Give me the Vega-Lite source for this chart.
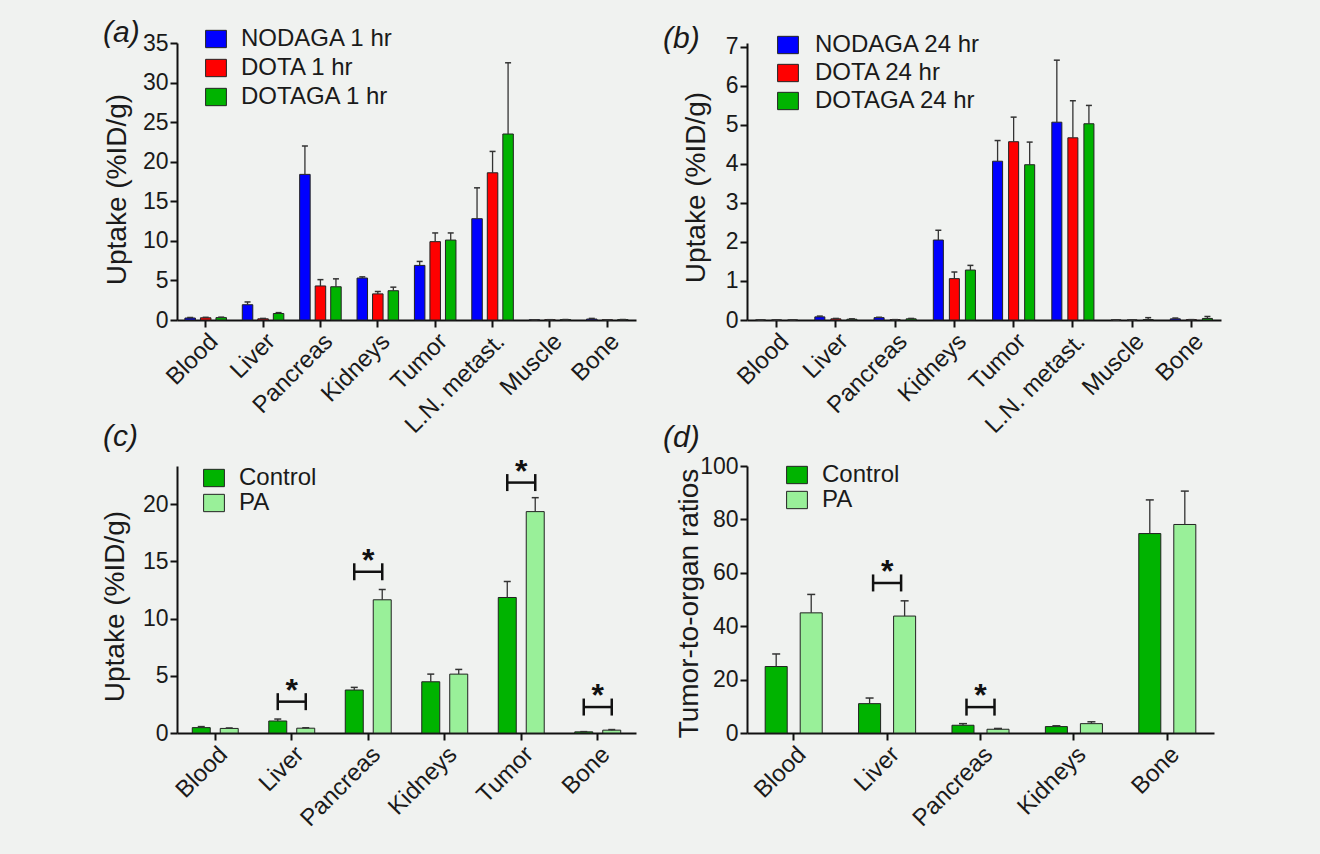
{
  "$schema": "https://vega.github.io/schema/vega-lite/v6.json",
  "background": "#f0f2f0",
  "padding": {"left": 100, "top": 18, "right": 100, "bottom": 31},
  "config": {
    "font": "Liberation Sans",
    "view": {"stroke": null},
    "tick": {"opacity": 1},
    "axis": {"grid": false, "domainColor": "#111111", "domainWidth": 2, "tickColor": "#111111", "tickWidth": 2, "tickSize": 7, "labelFontSize": 23, "labelColor": "#1a1a1a", "titleFontSize": 28, "titleFontWeight": "normal", "titleColor": "#1a1a1a", "labelPadding": 2},
    "axisX": {"labelFontSize": 24},
    "legend": {"orient": "none", "title": null, "symbolType": "M-1.2,-1H1.2V1H-1.2Z", "symbolSize": 300, "symbolStrokeColor": "#222222", "symbolStrokeWidth": 1, "symbolOpacity": 1, "labelFontSize": 24, "labelLimit": 400, "labelColor": "#1a1a1a", "labelOffset": 13, "padding": 0},
    "title": {"fontSize": 30, "fontStyle": "italic", "fontWeight": "normal", "color": "#1a1a1a", "anchor": "start", "frame": "group", "offset": 0, "baseline": "alphabetic"}
  },
  "datasets": {
    "a": [
      {"organ": "Blood", "series": "NODAGA 1 hr", "value": 0.25, "hi": 0.32},
      {"organ": "Blood", "series": "DOTA 1 hr", "value": 0.28, "hi": 0.34},
      {"organ": "Blood", "series": "DOTAGA 1 hr", "value": 0.3, "hi": 0.36},
      {"organ": "Liver", "series": "NODAGA 1 hr", "value": 1.93, "hi": 2.28},
      {"organ": "Liver", "series": "DOTA 1 hr", "value": 0.15, "hi": 0.2},
      {"organ": "Liver", "series": "DOTAGA 1 hr", "value": 0.82, "hi": 0.93},
      {"organ": "Pancreas", "series": "NODAGA 1 hr", "value": 18.4, "hi": 22.0},
      {"organ": "Pancreas", "series": "DOTA 1 hr", "value": 4.3, "hi": 5.1},
      {"organ": "Pancreas", "series": "DOTAGA 1 hr", "value": 4.2, "hi": 5.2},
      {"organ": "Kidneys", "series": "NODAGA 1 hr", "value": 5.3, "hi": 5.45},
      {"organ": "Kidneys", "series": "DOTA 1 hr", "value": 3.3, "hi": 3.6},
      {"organ": "Kidneys", "series": "DOTAGA 1 hr", "value": 3.7, "hi": 4.15},
      {"organ": "Tumor", "series": "NODAGA 1 hr", "value": 6.9, "hi": 7.4},
      {"organ": "Tumor", "series": "DOTA 1 hr", "value": 9.9, "hi": 11.0},
      {"organ": "Tumor", "series": "DOTAGA 1 hr", "value": 10.1, "hi": 11.0},
      {"organ": "L.N. metast.", "series": "NODAGA 1 hr", "value": 12.8, "hi": 16.7},
      {"organ": "L.N. metast.", "series": "DOTA 1 hr", "value": 18.6, "hi": 21.3},
      {"organ": "L.N. metast.", "series": "DOTAGA 1 hr", "value": 23.5, "hi": 32.5},
      {"organ": "Muscle", "series": "NODAGA 1 hr", "value": 0.02, "hi": 0.03},
      {"organ": "Muscle", "series": "DOTA 1 hr", "value": 0.03, "hi": 0.04},
      {"organ": "Muscle", "series": "DOTAGA 1 hr", "value": 0.04, "hi": 0.06},
      {"organ": "Bone", "series": "NODAGA 1 hr", "value": 0.12, "hi": 0.2},
      {"organ": "Bone", "series": "DOTA 1 hr", "value": 0.02, "hi": 0.03},
      {"organ": "Bone", "series": "DOTAGA 1 hr", "value": 0.04, "hi": 0.06}
    ],
    "b": [
      {"organ": "Blood", "series": "NODAGA 24 hr", "value": 0, "hi": 0},
      {"organ": "Blood", "series": "DOTA 24 hr", "value": 0, "hi": 0},
      {"organ": "Blood", "series": "DOTAGA 24 hr", "value": 0, "hi": 0},
      {"organ": "Liver", "series": "NODAGA 24 hr", "value": 0.08, "hi": 0.1},
      {"organ": "Liver", "series": "DOTA 24 hr", "value": 0.03, "hi": 0.04},
      {"organ": "Liver", "series": "DOTAGA 24 hr", "value": 0.02, "hi": 0.03},
      {"organ": "Pancreas", "series": "NODAGA 24 hr", "value": 0.06, "hi": 0.07},
      {"organ": "Pancreas", "series": "DOTA 24 hr", "value": 0.01, "hi": 0.01},
      {"organ": "Pancreas", "series": "DOTAGA 24 hr", "value": 0.03, "hi": 0.04},
      {"organ": "Kidneys", "series": "NODAGA 24 hr", "value": 2.05, "hi": 2.3},
      {"organ": "Kidneys", "series": "DOTA 24 hr", "value": 1.06, "hi": 1.23},
      {"organ": "Kidneys", "series": "DOTAGA 24 hr", "value": 1.28, "hi": 1.4},
      {"organ": "Tumor", "series": "NODAGA 24 hr", "value": 4.07, "hi": 4.6},
      {"organ": "Tumor", "series": "DOTA 24 hr", "value": 4.57, "hi": 5.2},
      {"organ": "Tumor", "series": "DOTAGA 24 hr", "value": 3.98, "hi": 4.56},
      {"organ": "L.N. metast.", "series": "NODAGA 24 hr", "value": 5.07, "hi": 6.66},
      {"organ": "L.N. metast.", "series": "DOTA 24 hr", "value": 4.67, "hi": 5.62},
      {"organ": "L.N. metast.", "series": "DOTAGA 24 hr", "value": 5.03, "hi": 5.5},
      {"organ": "Muscle", "series": "NODAGA 24 hr", "value": 0, "hi": 0},
      {"organ": "Muscle", "series": "DOTA 24 hr", "value": 0, "hi": 0},
      {"organ": "Muscle", "series": "DOTAGA 24 hr", "value": 0.01, "hi": 0.06},
      {"organ": "Bone", "series": "NODAGA 24 hr", "value": 0.03, "hi": 0.05},
      {"organ": "Bone", "series": "DOTA 24 hr", "value": 0.01, "hi": 0.01},
      {"organ": "Bone", "series": "DOTAGA 24 hr", "value": 0.04, "hi": 0.09}
    ],
    "c": [
      {"organ": "Blood", "group": "Control", "value": 0.47, "hi": 0.56},
      {"organ": "Blood", "group": "PA", "value": 0.4, "hi": 0.44},
      {"organ": "Liver", "group": "Control", "value": 1.05, "hi": 1.22},
      {"organ": "Liver", "group": "PA", "value": 0.42, "hi": 0.47},
      {"organ": "Pancreas", "group": "Control", "value": 3.76, "hi": 3.99},
      {"organ": "Pancreas", "group": "PA", "value": 11.65, "hi": 12.55},
      {"organ": "Kidneys", "group": "Control", "value": 4.48, "hi": 5.15},
      {"organ": "Kidneys", "group": "PA", "value": 5.15, "hi": 5.56},
      {"organ": "Tumor", "group": "Control", "value": 11.85, "hi": 13.25},
      {"organ": "Tumor", "group": "PA", "value": 19.36, "hi": 20.58},
      {"organ": "Bone", "group": "Control", "value": 0.1, "hi": 0.12},
      {"organ": "Bone", "group": "PA", "value": 0.25, "hi": 0.3}
    ],
    "sigc": [
      {"organ": "Liver", "value": 2.74},
      {"organ": "Pancreas", "value": 14.1},
      {"organ": "Tumor", "value": 21.9},
      {"organ": "Bone", "value": 2.27}
    ],
    "d": [
      {"organ": "Blood", "group": "Control", "value": 24.9, "hi": 29.6},
      {"organ": "Blood", "group": "PA", "value": 45.0, "hi": 51.9},
      {"organ": "Liver", "group": "Control", "value": 11.0, "hi": 13.1},
      {"organ": "Liver", "group": "PA", "value": 43.8, "hi": 49.5},
      {"organ": "Pancreas", "group": "Control", "value": 2.9, "hi": 3.5},
      {"organ": "Pancreas", "group": "PA", "value": 1.4, "hi": 1.7},
      {"organ": "Kidneys", "group": "Control", "value": 2.4, "hi": 2.7},
      {"organ": "Kidneys", "group": "PA", "value": 3.5, "hi": 4.2},
      {"organ": "Bone", "group": "Control", "value": 74.7, "hi": 87.3},
      {"organ": "Bone", "group": "PA", "value": 78.1, "hi": 90.6}
    ],
    "sigd": [
      {"organ": "Liver", "value": 56.2},
      {"organ": "Pancreas", "value": 9.7}
    ]
  },
  "columns": 2,
  "spacing": {"row": 146, "column": 111},
  "bounds": "flush",
  "resolve": {"scale": {"color": "independent", "xOffset": "independent", "x": "independent", "y": "independent"}, "legend": {"color": "independent"}, "axis": {"x": "independent", "y": "independent"}},
  "concat": [
    {
      "width": 459, "height": 277,
      "title": {"text": "(a)", "dx": -74, "dy": 25},
      "data": {"name": "a"},
      "encoding": {
        "x": {"field": "organ", "type": "nominal", "sort": ["Blood", "Liver", "Pancreas", "Kidneys", "Tumor", "L.N. metast.", "Muscle", "Bone"], "scale": {"paddingInner": 0, "paddingOuter": 0}, "axis": {"title": null, "labelAngle": -45, "labelAlign": "right", "labelBaseline": "top"}},
        "xOffset": {"field": "series", "type": "nominal", "sort": ["NODAGA 1 hr", "DOTA 1 hr", "DOTAGA 1 hr"], "scale": {"paddingInner": 0.323, "paddingOuter": 0.51}},
        "y": {"field": "value", "type": "quantitative", "title": "Uptake (%ID/g)", "scale": {"domain": [0, 35], "nice": false}, "axis": {"values": [0, 5, 10, 15, 20, 25, 30, 35], "titleX": -52, "titleY": 146, "titleAngle": 270, "titleBaseline": "alphabetic", "titleAlign": "center"}}
      },
      "layer": [
        {"mark": {"type": "bar", "stroke": "#222222", "strokeWidth": 1}, "encoding": {"color": {"field": "series", "type": "nominal", "scale": {"domain": ["NODAGA 1 hr", "DOTA 1 hr", "DOTAGA 1 hr"], "range": ["#0000ff", "#ff0000", "#00b300"]}, "legend": {"legendX": 27, "legendY": -16, "rowPadding": 5}}}},
        {"mark": {"type": "rule", "color": "#333333", "strokeWidth": 1.3}, "encoding": {"y2": {"field": "hi"}}},
        {"mark": {"type": "tick", "orient": "horizontal", "color": "#333333", "thickness": 1.5, "size": 6}, "encoding": {"y": {"field": "hi", "type": "quantitative", "title": "Uptake (%ID/g)"}}}
      ]
    },
    {
      "width": 474, "height": 277,
      "title": {"text": "(b)", "dx": -84, "dy": 25},
      "data": {"name": "b"},
      "encoding": {
        "x": {"field": "organ", "type": "nominal", "sort": ["Blood", "Liver", "Pancreas", "Kidneys", "Tumor", "L.N. metast.", "Muscle", "Bone"], "scale": {"paddingInner": 0, "paddingOuter": 0}, "axis": {"title": null, "labelAngle": -45, "labelAlign": "right", "labelBaseline": "top"}},
        "xOffset": {"field": "series", "type": "nominal", "sort": ["NODAGA 24 hr", "DOTA 24 hr", "DOTAGA 24 hr"], "scale": {"paddingInner": 0.375, "paddingOuter": 0.534}},
        "y": {"field": "value", "type": "quantitative", "title": "Uptake (%ID/g)", "scale": {"domain": [0, 7.1], "nice": false}, "axis": {"values": [0, 1, 2, 3, 4, 5, 6, 7], "titleX": -43, "titleY": 144, "titleAngle": 270, "titleBaseline": "alphabetic", "titleAlign": "center"}}
      },
      "layer": [
        {"mark": {"type": "bar", "stroke": "#222222", "strokeWidth": 1}, "encoding": {"color": {"field": "series", "type": "nominal", "scale": {"domain": ["NODAGA 24 hr", "DOTA 24 hr", "DOTAGA 24 hr"], "range": ["#0000ff", "#ff0000", "#00b300"]}, "legend": {"legendX": 29, "legendY": -10, "rowPadding": 4, "labelOffset": 15}}}},
        {"mark": {"type": "rule", "color": "#333333", "strokeWidth": 1.3}, "encoding": {"y2": {"field": "hi"}}},
        {"mark": {"type": "tick", "orient": "horizontal", "color": "#333333", "thickness": 1.5, "size": 6}, "encoding": {"y": {"field": "hi", "type": "quantitative", "title": "Uptake (%ID/g)"}}}
      ]
    },
    {
      "width": 459, "height": 267,
      "title": {"text": "(c)", "dx": -74, "dy": 0},
      "encoding": {
        "x": {"field": "organ", "type": "nominal", "sort": ["Blood", "Liver", "Pancreas", "Kidneys", "Tumor", "Bone"], "scale": {"paddingInner": 0, "paddingOuter": 0}, "axis": {"title": null, "labelAngle": -45, "labelAlign": "right", "labelBaseline": "top"}},
        "y": {"field": "value", "type": "quantitative", "title": "Uptake (%ID/g)", "scale": {"domain": [0, 23.35], "nice": false}, "axis": {"values": [0, 5, 10, 15, 20], "titleX": -54, "titleY": 140, "titleAngle": 270, "titleBaseline": "alphabetic", "titleAlign": "center"}}
      },
      "layer": [
        {
          "data": {"name": "c"},
          "encoding": {"xOffset": {"field": "group", "type": "nominal", "sort": ["Control", "PA"], "scale": {"paddingInner": 0.357, "paddingOuter": 0.546}}},
          "layer": [
            {"mark": {"type": "bar", "stroke": "#222222", "strokeWidth": 1}, "encoding": {"color": {"field": "group", "type": "nominal", "scale": {"domain": ["Control", "PA"], "range": ["#00b300", "#99f099"]}, "legend": {"legendX": 25, "legendY": 0, "rowPadding": 1}}}},
            {"mark": {"type": "rule", "color": "#333333", "strokeWidth": 1.3}, "encoding": {"y2": {"field": "hi"}}},
            {"mark": {"type": "tick", "orient": "horizontal", "color": "#333333", "thickness": 1.5, "size": 7}, "encoding": {"y": {"field": "hi", "type": "quantitative", "title": "Uptake (%ID/g)"}}}
          ]
        },
        {
          "data": {"name": "sigc"},
          "layer": [
            {"mark": {"type": "tick", "orient": "horizontal", "color": "#111111", "thickness": 2.5, "size": 28}},
            {"mark": {"type": "tick", "orient": "vertical", "color": "#111111", "thickness": 2.5, "size": 17, "xOffset": -14}},
            {"mark": {"type": "tick", "orient": "vertical", "color": "#111111", "thickness": 2.5, "size": 17, "xOffset": 14}},
            {"mark": {"type": "text", "text": "*", "fontSize": 32, "fontWeight": "bold", "baseline": "alphabetic", "dy": -1, "color": "#111111"}}
          ]
        }
      ]
    },
    {
      "width": 467, "height": 267,
      "title": {"text": "(d)", "dx": -84, "dy": 2},
      "encoding": {
        "x": {"field": "organ", "type": "nominal", "sort": ["Blood", "Liver", "Pancreas", "Kidneys", "Bone"], "scale": {"paddingInner": 0, "paddingOuter": 0}, "axis": {"title": null, "labelAngle": -45, "labelAlign": "right", "labelBaseline": "top"}},
        "y": {"field": "value", "type": "quantitative", "title": "Tumor-to-organ ratios", "scale": {"domain": [0, 100], "nice": false}, "axis": {"values": [0, 20, 40, 60, 80, 100], "titleX": -50, "titleY": 137, "titleAngle": 270, "titleBaseline": "alphabetic", "titleAlign": "center"}}
      },
      "layer": [
        {
          "data": {"name": "d"},
          "encoding": {"xOffset": {"field": "group", "type": "nominal", "sort": ["Control", "PA"], "scale": {"paddingInner": 0.371, "paddingOuter": 0.519}}},
          "layer": [
            {"mark": {"type": "bar", "stroke": "#222222", "strokeWidth": 1}, "encoding": {"color": {"field": "group", "type": "nominal", "scale": {"domain": ["Control", "PA"], "range": ["#00b300", "#99f099"]}, "legend": {"legendX": 38, "legendY": -3, "rowPadding": 1}}}},
            {"mark": {"type": "rule", "color": "#333333", "strokeWidth": 1.3}, "encoding": {"y2": {"field": "hi"}}},
            {"mark": {"type": "tick", "orient": "horizontal", "color": "#333333", "thickness": 1.5, "size": 8}, "encoding": {"y": {"field": "hi", "type": "quantitative", "title": "Tumor-to-organ ratios"}}}
          ]
        },
        {
          "data": {"name": "sigd"},
          "layer": [
            {"mark": {"type": "tick", "orient": "horizontal", "color": "#111111", "thickness": 2.5, "size": 28}},
            {"mark": {"type": "tick", "orient": "vertical", "color": "#111111", "thickness": 2.5, "size": 17, "xOffset": -14}},
            {"mark": {"type": "tick", "orient": "vertical", "color": "#111111", "thickness": 2.5, "size": 17, "xOffset": 14}},
            {"mark": {"type": "text", "text": "*", "fontSize": 32, "fontWeight": "bold", "baseline": "alphabetic", "dy": -1, "color": "#111111"}}
          ]
        }
      ]
    }
  ]
}
